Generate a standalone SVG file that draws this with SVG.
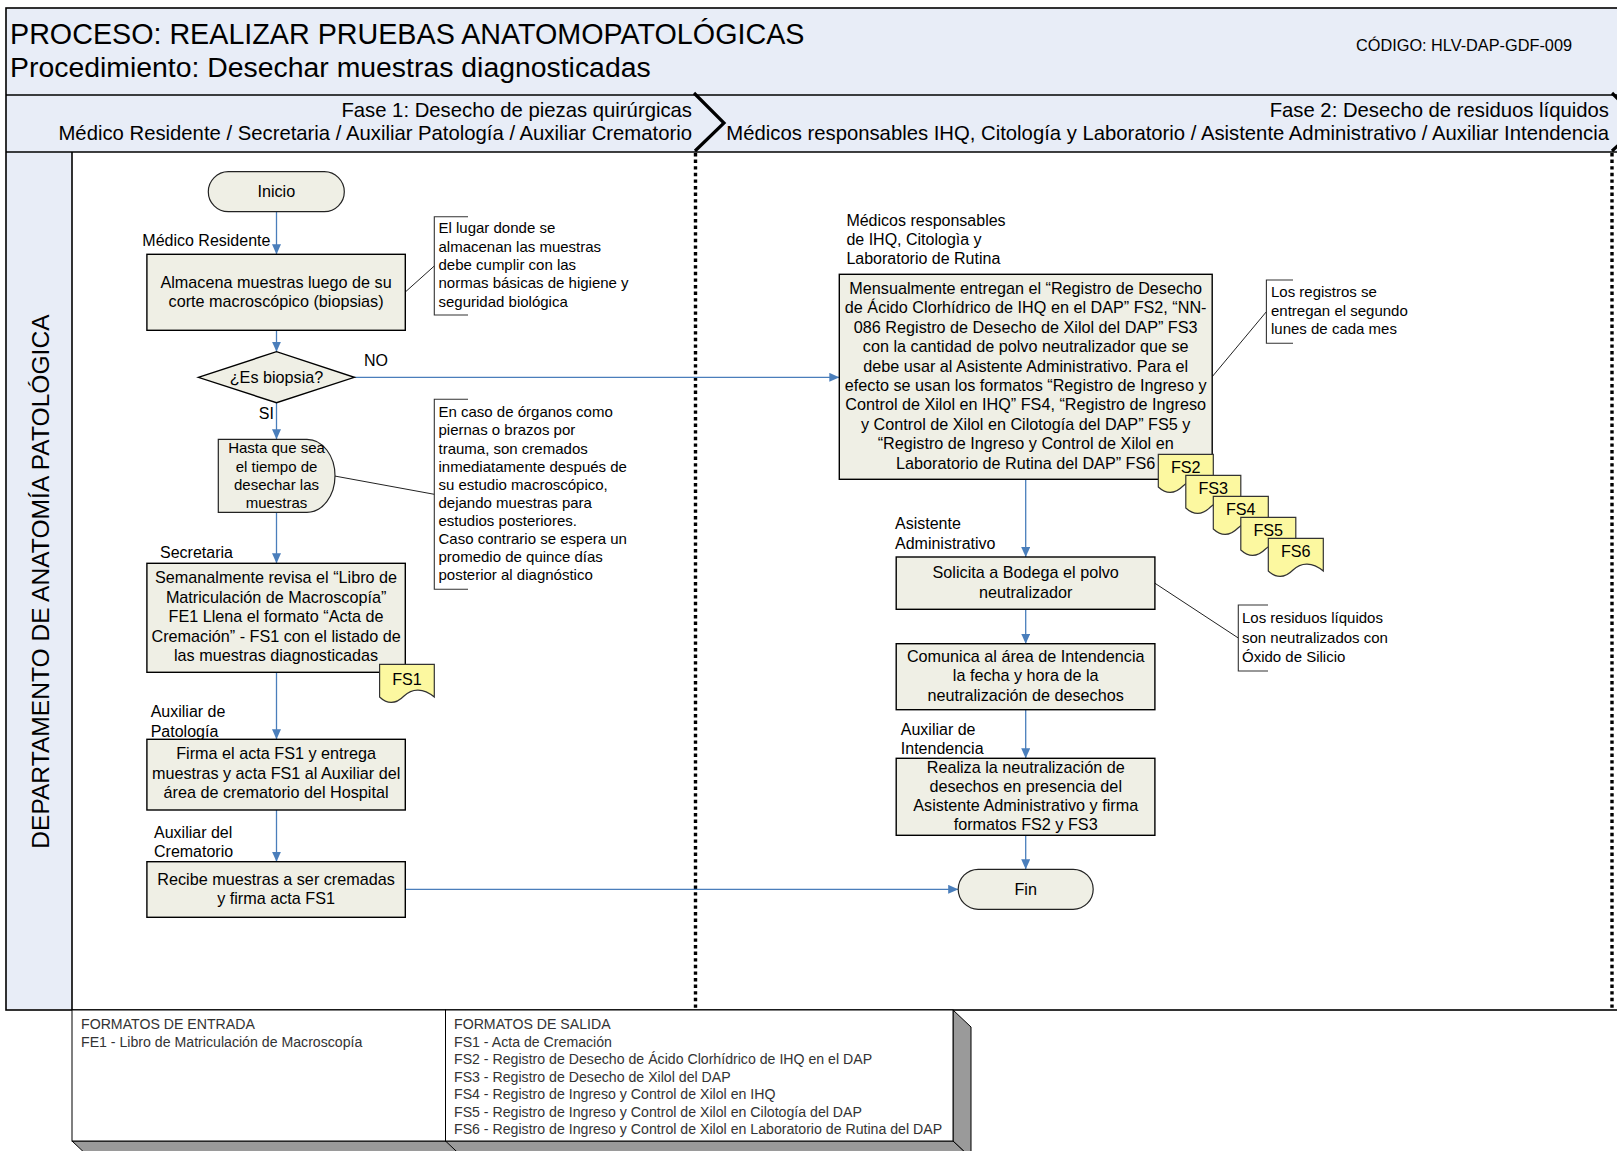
<svg xmlns="http://www.w3.org/2000/svg" width="1617" height="1151" viewBox="0 0 1617 1151">
  <defs>
    <marker id="arrow" viewBox="0 0 10 9" refX="10" refY="4.5" markerWidth="10" markerHeight="9" markerUnits="userSpaceOnUse" orient="auto">
      <path d="M0,0 L10,4.5 L0,9 Z" fill="#4a7ebb"/>
    </marker>
    <style>
      text { font-family: "Liberation Sans", Arial, sans-serif; fill: #000; }
      .band { fill: #e8edf7; }
      .frame { fill: none; stroke: #000; stroke-width: 1.6; }
      .box { fill: #efefe5; stroke: #000; stroke-width: 1.4; }
      .term { fill: #efefe5; stroke: #222; stroke-width: 1.2; }
      .doc { fill: #fcf8a0; stroke: #333; stroke-width: 1.2; }
      .flow { fill: none; stroke: #4a7ebb; stroke-width: 1.3; marker-end: url(#arrow); }
      .anno { fill: none; stroke: #222; stroke-width: 1; }
      .bracket { fill: none; stroke: #333; stroke-width: 1.1; }
      .phase-sep { fill: none; stroke: #000; stroke-width: 3.2; }
      .dots { fill: none; stroke: #000; stroke-width: 3.4; stroke-dasharray: 3.4 3.2; }
      .t16 { font-size: 16.2px; text-anchor: middle; }
      .t15 { font-size: 15px; text-anchor: middle; }
      .lbl { font-size: 16px; }
      .note { font-size: 15px; }
      .tbl { font-size: 14.15px; fill: #333; }
      .phase { font-size: 20.3px; text-anchor: end; }
      .side { fill: #9a9a9a; stroke: #000; stroke-width: 1; }
    </style>
  </defs>

  <!-- header and lane background -->
  <g id="frame">
    <rect class="band" x="6" y="8" width="1620" height="144"/>
    <rect class="band" x="6" y="152" width="66" height="857"/>
    <rect x="72" y="152" width="1550" height="857" fill="#fff"/>
    <rect class="frame" x="6" y="8" width="1620" height="1002"/>
    <line class="frame" x1="6" y1="95" x2="1617" y2="95"/>
    <line class="frame" x1="6" y1="152" x2="1617" y2="152"/>
    <line class="frame" x1="72" y1="152" x2="72" y2="1010"/>
    <text x="10" y="44" font-size="28.7">PROCESO: REALIZAR PRUEBAS ANATOMOPATOLÓGICAS</text>
    <text x="10" y="77" font-size="28.4">Procedimiento: Desechar muestras diagnosticadas</text>
    <text x="1356" y="51" font-size="16" textLength="216" lengthAdjust="spacingAndGlyphs">CÓDIGO: HLV-DAP-GDF-009</text>
    <text class="phase" x="692" y="117">Fase 1: Desecho de piezas quirúrgicas</text>
    <text class="phase" x="692" y="140">Médico Residente / Secretaria / Auxiliar Patología / Auxiliar Crematorio</text>
    <text class="phase" x="1609" y="117">Fase 2: Desecho de residuos líquidos</text>
    <text class="phase" x="1609" y="140">Médicos responsables IHQ, Citología y Laboratorio / Asistente Administrativo / Auxiliar Intendencia</text>
    <polyline class="phase-sep" points="694,93 724,123 695,151"/>
    <polyline class="phase-sep" points="1612,93 1642,123 1612,151"/>
    <line class="dots" x1="695.5" y1="153" x2="695.5" y2="1008"/>
    <line class="dots" x1="1612" y1="153" x2="1612" y2="1008"/>
    <text transform="translate(48.5,581.6) rotate(-90)" font-size="24.6" text-anchor="middle">DEPARTAMENTO DE ANATOMÍA PATOLÓGICA</text>
  </g>

  <!-- connectors -->
  <g id="connectors">
    <line class="flow" x1="276.5" y1="211.7" x2="276.5" y2="254.3"/>
    <line class="flow" x1="276.5" y1="330.3" x2="276.5" y2="351.7"/>
    <line class="flow" x1="276.5" y1="402.7" x2="276.5" y2="439.3"/>
    <line class="flow" x1="354.3" y1="377.3" x2="839.3" y2="377.3"/>
    <line class="flow" x1="276.5" y1="512.3" x2="276.5" y2="563.3"/>
    <line class="flow" x1="276.5" y1="672.3" x2="276.5" y2="739.3"/>
    <line class="flow" x1="276.5" y1="810" x2="276.5" y2="861.7"/>
    <line class="flow" x1="405.3" y1="889.3" x2="958.2" y2="889.3"/>
    <line class="flow" x1="1025.7" y1="479.3" x2="1025.7" y2="557"/>
    <line class="flow" x1="1025.7" y1="609.3" x2="1025.7" y2="643.7"/>
    <line class="flow" x1="1025.7" y1="709.7" x2="1025.7" y2="758.3"/>
    <line class="flow" x1="1025.7" y1="835.3" x2="1025.7" y2="869.3"/>
    <line class="anno" x1="405.3" y1="292" x2="434.3" y2="266"/>
    <line class="anno" x1="334.6" y1="476" x2="434.3" y2="494.3"/>
    <line class="anno" x1="1212.2" y1="376.7" x2="1266.4" y2="311.7"/>
    <line class="anno" x1="1155" y1="583.3" x2="1238.3" y2="638"/>
    <text class="lbl" x="364" y="366">NO</text>
    <text class="lbl" x="258.8" y="418.5">SI</text>
  </g>

  <!-- phase 1 -->
  <g id="inicio">
    <rect class="term" x="208.3" y="171.7" width="136" height="40" rx="20"/>
    <text class="t16" x="276.3" y="197">Inicio</text>
  </g>

  <g id="almacena">
    <text class="lbl" x="142.3" y="246">Médico Residente</text>
    <rect class="box" x="146.9" y="254.3" width="258.4" height="76"/>
    <text class="t16" x="276.1" y="287.7">Almacena muestras luego de su</text>
    <text class="t16" x="276.1" y="306.7">corte macroscópico (biopsias)</text>
  </g>

  <g id="nota-lugar">
    <polyline class="bracket" points="468,216.7 434.3,216.7 434.3,315 468,315"/>
    <text class="note" x="438.5" y="233.3">El lugar donde se</text>
    <text class="note" x="438.5" y="251.6">almacenan las muestras</text>
    <text class="note" x="438.5" y="269.9">debe cumplir con las</text>
    <text class="note" x="438.5" y="288.2">normas básicas de higiene y</text>
    <text class="note" x="438.5" y="306.5">seguridad biológica</text>
  </g>

  <g id="es-biopsia">
    <polygon class="box" points="198.3,377.3 276.5,351.7 354.3,377.3 276.5,402.7" stroke-width="1.1"/>
    <text class="t16" x="276.5" y="383.3">¿Es biopsia?</text>
  </g>

  <g id="espera">
    <path class="term" d="M218.3,439.3 H307 A28,36.5 0 0 1 307,512.3 H218.3 Z"/>
    <text class="t15" x="276.5" y="453.3">Hasta que sea</text>
    <text class="t15" x="276.5" y="471.6">el tiempo de</text>
    <text class="t15" x="276.5" y="489.9">desechar las</text>
    <text class="t15" x="276.5" y="508">muestras</text>
  </g>

  <g id="nota-organos">
    <polyline class="bracket" points="468,399.3 434.3,399.3 434.3,589.3 468,589.3"/>
    <text class="note" x="438.5" y="417.3">En caso de órganos como</text>
    <text class="note" x="438.5" y="435.4">piernas o brazos por</text>
    <text class="note" x="438.5" y="453.5">trauma, son cremados</text>
    <text class="note" x="438.5" y="471.6">inmediatamente después de</text>
    <text class="note" x="438.5" y="489.7">su estudio macroscópico,</text>
    <text class="note" x="438.5" y="507.8">dejando muestras para</text>
    <text class="note" x="438.5" y="525.9">estudios posteriores.</text>
    <text class="note" x="438.5" y="544">Caso contrario se espera un</text>
    <text class="note" x="438.5" y="562.1">promedio de quince días</text>
    <text class="note" x="438.5" y="580.2">posterior al diagnóstico</text>
  </g>

  <g id="revisa-libro">
    <text class="lbl" x="160" y="558">Secretaria</text>
    <rect class="box" x="146.9" y="563.3" width="258.4" height="109"/>
    <text class="t16" x="276.1" y="583">Semanalmente revisa el “Libro de</text>
    <text class="t16" x="276.1" y="602.6">Matriculación de Macroscopía”</text>
    <text class="t16" x="276.1" y="622.2">FE1  Llena el formato “Acta de</text>
    <text class="t16" x="276.1" y="641.8">Cremación” - FS1 con el listado de</text>
    <text class="t16" x="276.1" y="661.4">las muestras diagnosticadas</text>
  </g>

  <g id="doc-fs1">
    <path class="doc" d="M379.6,664.3 H434.3 V697 C423.3,688 412.3,688 404,696 C396,704 388,705 379.6,697 Z"/>
    <text class="t16" x="407" y="684.5">FS1</text>
  </g>

  <g id="firma-acta">
    <text class="lbl" x="150.7" y="717.3">Auxiliar de</text>
    <text class="lbl" x="150.7" y="736.7">Patología</text>
    <rect class="box" x="146.9" y="739.3" width="258.4" height="70.7"/>
    <text class="t16" x="276.1" y="759.3">Firma el acta FS1 y entrega</text>
    <text class="t16" x="276.1" y="778.8">muestras y acta FS1 al Auxiliar del</text>
    <text class="t16" x="276.1" y="798.3">área de crematorio del Hospital</text>
  </g>

  <g id="recibe-muestras">
    <text class="lbl" x="154" y="838.3">Auxiliar del</text>
    <text class="lbl" x="154" y="857.3">Crematorio</text>
    <rect class="box" x="146.9" y="861.7" width="258.4" height="55.6"/>
    <text class="t16" x="276.1" y="885">Recibe muestras a ser cremadas</text>
    <text class="t16" x="276.1" y="904">y firma acta FS1</text>
  </g>

  <!-- phase 2 -->
  <g id="entrega-registros">
    <text class="lbl" x="846.4" y="226">Médicos responsables</text>
    <text class="lbl" x="846.4" y="245">de IHQ, Citologìa y</text>
    <text class="lbl" x="846.4" y="264">Laboratorio de Rutina</text>
    <rect class="box" x="839.3" y="274.3" width="372.9" height="205"/>
    <text class="t16" x="1025.7" y="294">Mensualmente entregan el “Registro de Desecho</text>
    <text class="t16" x="1025.7" y="313.4">de Ácido Clorhídrico de IHQ en el DAP” FS2, “NN-</text>
    <text class="t16" x="1025.7" y="332.8">086 Registro de Desecho de Xilol del DAP” FS3</text>
    <text class="t16" x="1025.7" y="352.2">con la cantidad de polvo neutralizador que se</text>
    <text class="t16" x="1025.7" y="371.6">debe usar al Asistente Administrativo. Para el</text>
    <text class="t16" x="1025.7" y="391">efecto se usan los formatos “Registro de Ingreso y</text>
    <text class="t16" x="1025.7" y="410.4">Control de Xilol en IHQ” FS4, “Registro de Ingreso</text>
    <text class="t16" x="1025.7" y="429.8">y Control de Xilol en Cilotogía del DAP” FS5 y</text>
    <text class="t16" x="1025.7" y="449.2">“Registro de Ingreso y Control de Xilol en</text>
    <text class="t16" x="1025.7" y="468.6">Laboratorio de Rutina del DAP” FS6</text>
  </g>

  <g id="doc-fs2">
    <path class="doc" d="M1158.3,454.3 H1213.3 V487 C1202.3,478 1191.3,478 1183,486 C1175,494 1167,495 1158.3,487 Z"/>
    <text class="t16" x="1185.8" y="472.5">FS2</text>
  </g>
  <g id="doc-fs3">
    <path class="doc" d="M1185.8,475.3 H1240.8 V508 C1229.8,499 1218.8,499 1210.5,507 C1202.5,515 1194.5,516 1185.8,508 Z"/>
    <text class="t16" x="1213.3" y="493.5">FS3</text>
  </g>
  <g id="doc-fs4">
    <path class="doc" d="M1213.3,496.3 H1268.3 V529 C1257.3,520 1246.3,520 1238,528 C1230,536 1222,537 1213.3,529 Z"/>
    <text class="t16" x="1240.8" y="514.5">FS4</text>
  </g>
  <g id="doc-fs5">
    <path class="doc" d="M1240.8,517.3 H1295.8 V550 C1284.8,541 1273.8,541 1265.5,549 C1257.5,557 1249.5,558 1240.8,550 Z"/>
    <text class="t16" x="1268.3" y="535.5">FS5</text>
  </g>
  <g id="doc-fs6">
    <path class="doc" d="M1268.3,538.3 H1323.3 V571 C1312.3,562 1301.3,562 1293,570 C1285,578 1277,579 1268.3,571 Z"/>
    <text class="t16" x="1295.8" y="556.5">FS6</text>
  </g>

  <g id="nota-registros">
    <polyline class="bracket" points="1293,280 1266.4,280 1266.4,343.3 1293,343.3"/>
    <text class="note" x="1271" y="297.3">Los registros se</text>
    <text class="note" x="1271" y="315.8">entregan el segundo</text>
    <text class="note" x="1271" y="334.3">lunes de cada mes</text>
  </g>

  <g id="solicita-polvo">
    <text class="lbl" x="895" y="529.3">Asistente</text>
    <text class="lbl" x="895" y="549.3">Administrativo</text>
    <rect class="box" x="896.2" y="557" width="258.7" height="52.3"/>
    <text class="t16" x="1025.7" y="578.3">Solicita a Bodega el polvo</text>
    <text class="t16" x="1025.7" y="597.7">neutralizador</text>
  </g>

  <g id="nota-residuos">
    <polyline class="bracket" points="1268,605 1238.3,605 1238.3,671 1268,671"/>
    <text class="note" x="1242" y="623.3">Los residuos líquidos</text>
    <text class="note" x="1242" y="642.5">son neutralizados con</text>
    <text class="note" x="1242" y="661.7">Óxido de Silicio</text>
  </g>

  <g id="comunica-intendencia">
    <rect class="box" x="896.2" y="643.7" width="258.7" height="66"/>
    <text class="t16" x="1025.7" y="661.7">Comunica al área de Intendencia</text>
    <text class="t16" x="1025.7" y="681.2">la fecha y hora de la</text>
    <text class="t16" x="1025.7" y="700.7">neutralización de desechos</text>
  </g>

  <g id="realiza-neutralizacion">
    <text class="lbl" x="900.8" y="735">Auxiliar de</text>
    <text class="lbl" x="900.8" y="754">Intendencia</text>
    <rect class="box" x="896.2" y="758.3" width="258.7" height="77"/>
    <text class="t16" x="1025.7" y="772.7">Realiza la neutralización de</text>
    <text class="t16" x="1025.7" y="791.8">desechos en presencia del</text>
    <text class="t16" x="1025.7" y="810.9">Asistente Administrativo y firma</text>
    <text class="t16" x="1025.7" y="830">formatos FS2 y FS3</text>
  </g>

  <g id="fin">
    <rect class="term" x="958.2" y="869.3" width="135" height="40" rx="20"/>
    <text class="t16" x="1025.7" y="894.5">Fin</text>
  </g>

  <!-- formats table -->
  <g id="formatos">
    <polygon class="side" points="953,1010 971,1027 971,1158 953,1141"/>
    <polygon class="side" points="72,1141 953,1141 971,1158 90,1158"/>
    <line x1="445.5" y1="1141" x2="463.5" y2="1158" stroke="#000" stroke-width="1"/>
    <rect x="72" y="1010" width="373.5" height="131" fill="#fff" stroke="#000" stroke-width="1"/>
    <rect x="445.5" y="1010" width="507.5" height="131" fill="#fff" stroke="#000" stroke-width="1"/>
    <text class="tbl" x="81" y="1029">FORMATOS DE ENTRADA</text>
    <text class="tbl" x="81" y="1046.5">FE1 - Libro de Matriculación de Macroscopía</text>
    <text class="tbl" x="454" y="1029">FORMATOS DE SALIDA</text>
    <text class="tbl" x="454" y="1046.5">FS1 - Acta de Cremación</text>
    <text class="tbl" x="454" y="1064">FS2 - Registro de Desecho de Ácido Clorhídrico de IHQ en el DAP</text>
    <text class="tbl" x="454" y="1081.5">FS3 - Registro de Desecho de Xilol del DAP</text>
    <text class="tbl" x="454" y="1099">FS4 - Registro de Ingreso y Control de Xilol en IHQ</text>
    <text class="tbl" x="454" y="1116.5">FS5 - Registro de Ingreso y Control de Xilol en Cilotogía del DAP</text>
    <text class="tbl" x="454" y="1134">FS6 - Registro de Ingreso y Control de Xilol en Laboratorio de Rutina del DAP</text>
  </g>
</svg>
